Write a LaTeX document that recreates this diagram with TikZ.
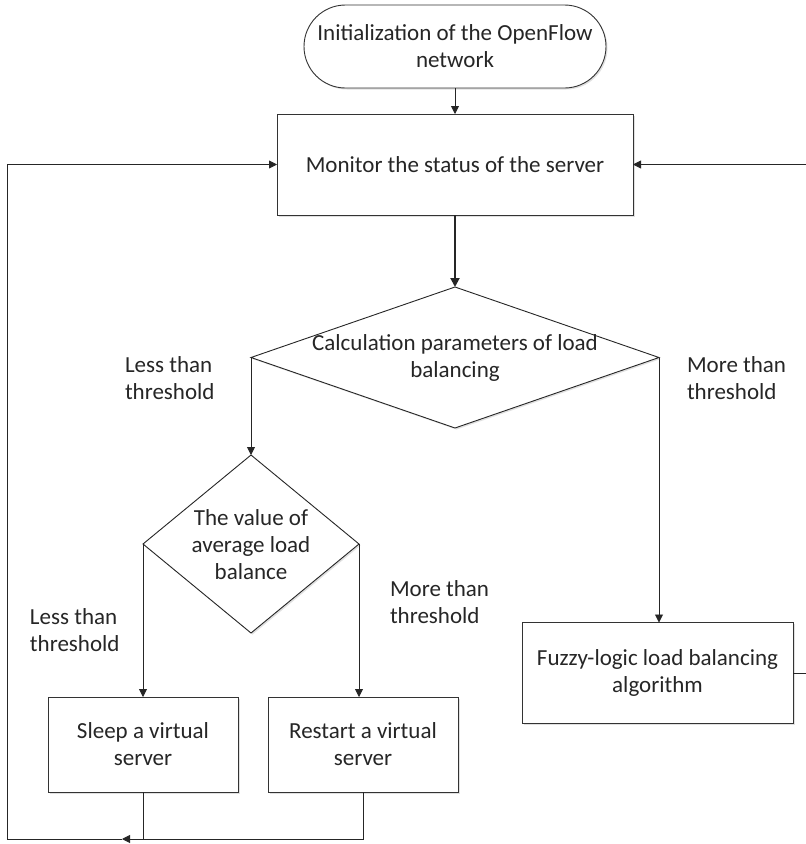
\documentclass[tikz,border=0pt]{standalone}
\usepackage{fontspec}
\setmainfont{Carlito}
\usetikzlibrary{shapes.geometric,shapes.misc,arrows.meta,shadows}
\begin{document}
\begin{tikzpicture}[x=1pt,y=-1pt,
  font=\fontsize{23}{27}\selectfont,
  every node/.style={inner sep=0pt, outer sep=0pt},
  shade/.style={drop shadow={shadow xshift=1.5pt, shadow yshift=-1.5pt, fill=black!12, opacity=1}},
  boxnode/.style={draw=black!80, line width=0.9pt, fill=white, shade, align=center},
  termnode/.style={boxnode, rounded rectangle},
  decnode/.style={draw=black!85, line width=0.9pt, diamond, fill=white, shade},
  txt/.style={align=center, text=black!85},
  lbl/.style={align=left, anchor=west, text=black!85},
  arr/.style={draw=black!85, line width=0.9pt, -{Triangle[length=8pt,width=8pt]}},
  arrthick/.style={draw=black!85, line width=2pt, -{Triangle[length=9pt,width=9pt]}},
  ln/.style={draw=black!85, line width=0.9pt}]
\useasboundingbox (0,0) rectangle (806,844);
\fill[white] (0,0) rectangle (806,844);
\clip (0,0) rectangle (806,844);

% nodes
\node[termnode, minimum width=302pt, minimum height=83pt, text=black!85] (term) at (455,46.5)
  {Initialization of the OpenFlow\\network};
\node[boxnode, minimum width=356pt, minimum height=101pt, text=black!85] (mon) at (455,164.5)
  {Monitor the status of the server};
\node[decnode, minimum width=408pt, minimum height=141pt] (d1) at (455,357.5) {};
\node[txt] (d1t) at (455,358) {Calculation parameters of load\\balancing};
\node[decnode, minimum width=216pt, minimum height=178pt] (d2) at (251,544) {};
\node[txt] (d2t) at (251,545) {The value of\\average load\\balance};
\node[boxnode, minimum width=190pt, minimum height=95pt, text=black!85] (sleep) at (143,744.5)
  {Sleep a virtual\\server};
\node[boxnode, minimum width=190pt, minimum height=95pt, text=black!85] (restart) at (363,744.5)
  {Restart a virtual\\server};
\node[boxnode, minimum width=271pt, minimum height=101pt, text=black!85] (fuzzy) at (657.5,673)
  {Fuzzy-logic load balancing\\algorithm};

% labels
\node[lbl] (l1) at (125,378) {Less than\\threshold};
\node[lbl] (r1) at (687,378) {More than\\threshold};
\node[lbl] (l2) at (30,630) {Less than\\threshold};
\node[lbl] (r2) at (390,602) {More than\\threshold};

% helper coordinates
\coordinate (b) at (122,839);
\coordinate (lc) at (7,839);
\coordinate (rtop) at (830,164.5);

% connectors
\draw[arr] (term.south) -- (mon.north);
\draw[arrthick] (mon.south) -- (d1.north);
\draw[arr] (d1.west) -- (d2.north);
\draw[arr] (d1.east) -- (d1.east |- fuzzy.north);
\draw[arr] (d2.west) -- (d2.west |- sleep.north);
\draw[arr] (d2.east) -- (d2.east |- restart.north);
\draw[arr] (restart.south) |- (b);
\draw[ln] (sleep.south) -- (sleep.south |- b);
\draw[arr] (b) -- (lc) |- (mon.west);
\draw[arr] (fuzzy.east) -- (fuzzy.east -| rtop) -- (rtop) -- (mon.east);
\end{tikzpicture}
\end{document}
